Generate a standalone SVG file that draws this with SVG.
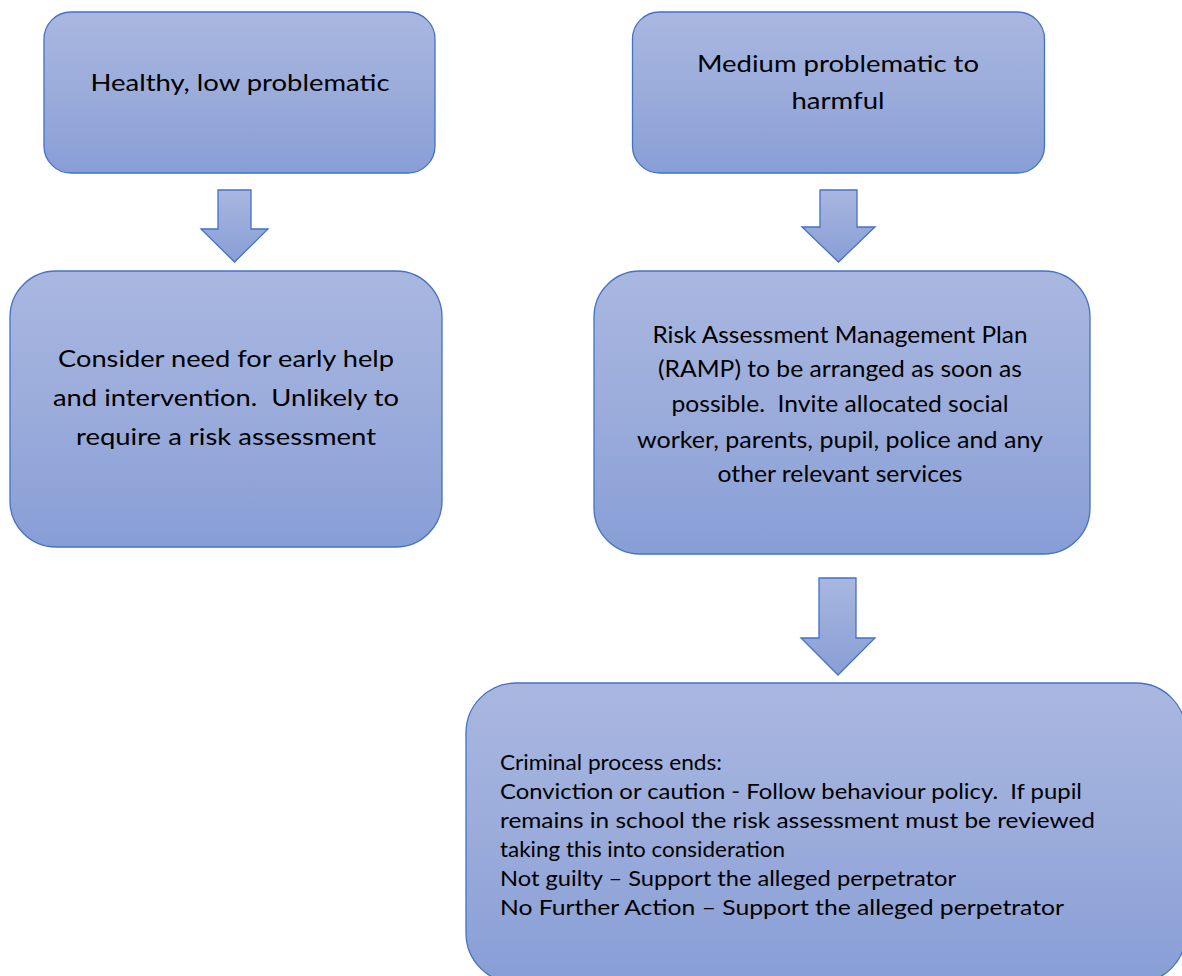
<svg xmlns="http://www.w3.org/2000/svg" width="1182" height="976" viewBox="0 0 1182 976">
<style>
.box{stroke:#4472C4;stroke-width:1.3;fill:url(#g)}
.arr{stroke:#4472C4;stroke-width:1.3;fill:url(#ga)}
text{font-family:Lato,"Liberation Sans",sans-serif;font-size:24px;fill:#000}
.c{text-anchor:middle}
.s{font-size:22px}
</style>
<defs>
<linearGradient id="g" x1="0" y1="0" x2="0" y2="1">
<stop offset="0" stop-color="#A9B7E0"/>
<stop offset="0.5" stop-color="#9BACDB"/>
<stop offset="1" stop-color="#879ED6"/>
</linearGradient>
<linearGradient id="ga" x1="0" y1="0" x2="0" y2="1">
<stop offset="0" stop-color="#A9B7E0"/>
<stop offset="1" stop-color="#889ED6"/>
</linearGradient>
</defs>
<rect width="1182" height="976" fill="#fff"/>
<g id="connectors">
<polygon class="arr" points="218,190 251,190 251,229 268,229 234.5,262 201,229 218,229"/>
<polygon class="arr" points="820,190 857,190 857,227 875,227 838.5,262 802,227 820,227"/>
<polygon class="arr" points="819,578 856,578 856,638 875,638 838,675 801,638 819,638"/>
</g>
<g id="n1">
<rect class="box" x="44" y="12" width="391" height="161" rx="27"/>
<text class="c" x="240" y="91" textLength="299" lengthAdjust="spacingAndGlyphs">Healthy, low problematic</text>
</g>
<g id="n2">
<rect class="box" x="632.5" y="12" width="412" height="161" rx="27"/>
<text class="c" x="838" y="72" textLength="282" lengthAdjust="spacingAndGlyphs">Medium problematic to</text>
<text class="c" x="838" y="109" textLength="93" lengthAdjust="spacingAndGlyphs">harmful</text>
</g>
<g id="n3">
<rect class="box" x="10" y="271" width="432" height="276" rx="46"/>
<text class="c" x="226" y="367" textLength="336" lengthAdjust="spacingAndGlyphs">Consider need for early help</text>
<text class="c" x="226" y="406" textLength="346" lengthAdjust="spacingAndGlyphs">and intervention.&#160; Unlikely to</text>
<text class="c" x="226" y="445" textLength="300" lengthAdjust="spacingAndGlyphs">require a risk assessment</text>
</g>
<g id="n4">
<rect class="box" x="594" y="271" width="496" height="283" rx="46"/>
<text class="c" x="840" y="343" textLength="375" lengthAdjust="spacingAndGlyphs">Risk Assessment Management Plan</text>
<text class="c" x="840" y="377" textLength="364" lengthAdjust="spacingAndGlyphs">(RAMP) to be arranged as soon as</text>
<text class="c" x="840" y="412" textLength="337" lengthAdjust="spacingAndGlyphs">possible.&#160; Invite allocated social</text>
<text class="c" x="840" y="448" textLength="406" lengthAdjust="spacingAndGlyphs">worker, parents, pupil, police and any</text>
<text class="c" x="840" y="482" textLength="245" lengthAdjust="spacingAndGlyphs">other relevant services</text>
</g>
<g id="n5">
<rect class="box" x="466" y="683" width="720" height="300" rx="50"/>
<text class="s" x="500" y="770" textLength="222" lengthAdjust="spacingAndGlyphs">Criminal process ends:</text>
<text class="s" x="500" y="799" textLength="582" lengthAdjust="spacingAndGlyphs">Conviction or caution - Follow behaviour policy.&#160; If pupil</text>
<text class="s" x="500" y="828" textLength="595" lengthAdjust="spacingAndGlyphs">remains in school the risk assessment must be reviewed</text>
<text class="s" x="500" y="857" textLength="285" lengthAdjust="spacingAndGlyphs">taking this into consideration</text>
<text class="s" x="500" y="886" textLength="456" lengthAdjust="spacingAndGlyphs">Not guilty – Support the alleged perpetrator</text>
<text class="s" x="500" y="915" textLength="564" lengthAdjust="spacingAndGlyphs">No Further Action – Support the alleged perpetrator</text>
</g>
</svg>
